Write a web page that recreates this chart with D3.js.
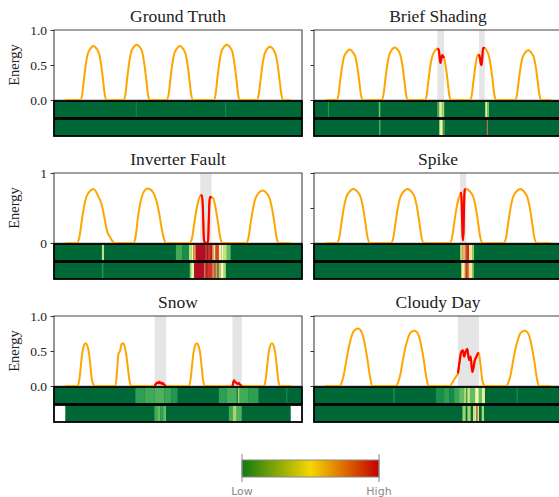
<!DOCTYPE html>
<html><head><meta charset="utf-8">
<script src="https://cdn.jsdelivr.net/npm/d3@7"></script>
<style>body{margin:0;background:#fff}svg{display:block}</style>
</head><body>
<svg id="c" width="559" height="497"></svg>
<script>
// ---------------- DATA ----------------
const titles = ["Ground Truth", "Brief Shading", "Inverter Fault", "Spike", "Snow", "Cloudy Day"];
const hours = [120, 120, 96, 96, 144, 96];

// daylight segments: first hour of each segment + hourly energy values (zero elsewhere)
const gtStarts = [9, 32, 55, 80, 103];
const gtValues = [
  [0.08,0.31,0.52,0.66,0.72,0.755,0.77,0.755,0.72,0.66,0.52,0.31,0.08],
  [0.08,0.32,0.53,0.68,0.74,0.775,0.79,0.775,0.74,0.68,0.53,0.32,0.08],
  [0.08,0.31,0.52,0.66,0.72,0.755,0.77,0.755,0.72,0.66,0.52,0.31,0.08],
  [0.08,0.32,0.53,0.68,0.74,0.775,0.79,0.775,0.74,0.68,0.53,0.32,0.08],
  [0.08,0.30,0.51,0.65,0.71,0.745,0.76,0.745,0.71,0.65,0.51,0.30,0.08]];
const bsStarts = [7, 31, 54, 78, 102];
const bsValues = [
  [0.07,0.29,0.48,0.62,0.67,0.705,0.72,0.705,0.67,0.62,0.48,0.29,0.07],
  [0.08,0.30,0.50,0.64,0.70,0.735,0.75,0.735,0.70,0.64,0.50,0.30,0.08],
  [0.07,0.30,0.50,0.63,0.69,0.725,0.74,0.62,0.55,0.62,0.50,0.30,0.07],
  [0.075,0.30,0.50,0.64,0.70,0.735,0.75,0.74,0.70,0.64,0.50,0.30,0.075],
  [0.07,0.28,0.48,0.61,0.66,0.695,0.71,0.695,0.66,0.61,0.48,0.28,0.07]];
const ifStarts = [6, 30, 54, 78];
const ifValues = [
  [0.08,0.31,0.52,0.66,0.72,0.755,0.77,0.74,0.67,0.60,0.48,0.30,0.15,0.09,0.03],
  [0.10,0.38,0.58,0.70,0.76,0.78,0.77,0.74,0.68,0.58,0.42,0.22,0.06],
  [0.075,0.30,0.50,0.64,0.70,0.73,0.75,0.73,0.70,0.64,0.50,0.30,0.075],
  [0.075,0.30,0.50,0.64,0.70,0.735,0.75,0.735,0.70,0.64,0.50,0.30,0.075]];
const spStarts = [6, 29, 54, 77];
const spValues = [
  [0.08,0.31,0.52,0.66,0.72,0.755,0.77,0.755,0.72,0.66,0.52,0.31,0.08],
  [0.08,0.31,0.52,0.66,0.72,0.755,0.77,0.755,0.72,0.66,0.52,0.31,0.08],
  [0.08,0.31,0.52,0.66,0.72,0.755,0.77,0.755,0.72,0.66,0.52,0.31,0.08],
  [0.08,0.31,0.52,0.66,0.72,0.755,0.77,0.755,0.72,0.66,0.52,0.31,0.08]];
const snStarts = [9, 33, 80, 128];
const snValues = [
  [0.09,0.30,0.49,0.58,0.61,0.58,0.49,0.30,0.09,0.02],
  [0.20,0.46,0.50,0.60,0.61,0.56,0.44,0.26,0.08],
  [0.09,0.30,0.49,0.58,0.61,0.58,0.49,0.30,0.09],
  [0.09,0.30,0.49,0.58,0.61,0.58,0.49,0.30,0.09]];
const cdStarts = [7, 31, 54, 78];
const cdValues = [
  [0.05,0.18,0.37,0.55,0.69,0.78,0.81,0.82,0.80,0.72,0.57,0.37,0.14],
  [0.05,0.17,0.36,0.53,0.66,0.75,0.78,0.79,0.77,0.70,0.55,0.36,0.13],
  [0.04,0.10,0.15,0.20,0.30,0.40,0.45,0.45,0.40,0.35,0.40,0.45,0.33,0.06],
  [0.05,0.17,0.36,0.53,0.66,0.75,0.78,0.79,0.77,0.70,0.55,0.36,0.13]];

// anomalous stretches [hour, energy] (drawn red over the shaded window)
const bsAnomaly1 = [[59.7,0.735],[60.3,0.72],[60.7,0.66],[61.1,0.55],[61.4,0.53],[61.8,0.60],[62.3,0.64],[62.8,0.62],[63.2,0.60]];
const bsAnomaly2 = [[81.8,0.65],[82.3,0.60],[82.8,0.52],[83.2,0.50],[83.6,0.62],[84.0,0.74],[84.4,0.745],[84.9,0.74]];
const ifAnomaly = [[57.6,0.68],[58.2,0.68],[58.6,0.50],[58.9,0.15],[59.2,0.02],[59.6,0.0],[60.4,0.0],[60.8,0.03],[61.1,0.30],[61.4,0.60],[61.8,0.66],[62.3,0.65]];
const spAnomaly = [[57.6,0.70],[57.9,0.72],[58.2,0.45],[58.5,0.10],[58.7,0.04],[58.9,0.20],[59.1,0.55],[59.4,0.76],[59.7,0.77]];
const snAnomaly1 = [[57.1,0.0],[57.6,0.02],[58.2,0.04],[58.8,0.05],[59.4,0.04],[60.0,0.06],[60.6,0.04],[61.2,0.05],[61.8,0.03],[62.4,0.04],[63.0,0.02],[63.6,0.01],[64.3,0.0]];
const snAnomaly2 = [[106.8,0.0],[107.3,0.05],[107.8,0.08],[108.3,0.06],[108.9,0.05],[109.5,0.04],[110.1,0.03],[110.8,0.04],[111.5,0.02],[112.2,0.01],[112.8,0.0]];
const cdAnomaly = [[56.5,0.18],[57.2,0.35],[57.9,0.49],[58.6,0.51],[59.1,0.42],[59.8,0.49],[60.5,0.53],[61.2,0.37],[61.9,0.42],[62.6,0.20],[63.2,0.28],[63.7,0.37],[64.4,0.42],[65.1,0.47],[65.4,0.47]];

// shaded anomaly windows [start hour, end hour]
const bsSpans = [[59.7,63.2],[81.9,84.9]];
const ifSpans = [[57.5,62.3]];
const spSpans = [[57.4,60.0]];
const snSpans = [[57.1,64.5],[106.8,112.8]];
const cdSpans = [[56.5,65.4]];

// heat-map stripes [start hour, end hour, anomaly score 0..1]; background score 0
const gtHeat1 = [[37.5,38.0,0.08],[85.1,85.6,0.08]];
const gtHeat2 = [];
const bsHeat1 = [[1.4,2.0,0.1],[28.5,29.3,0.22],[59.7,60.3,0.25],[60.6,61.7,0.42],[61.7,62.4,0.5],[62.4,63.3,0.3],[85.0,85.5,0.3],[85.5,86.3,0.45],[86.3,87.1,0.25]];
const bsHeat2 = [[28.8,29.3,0.25],[60.6,61.1,0.3],[61.1,62.2,0.5],[62.2,62.7,0.35],[63.0,63.4,0.25],[86.0,86.5,0.8]];
const ifHeat1 = [[15.6,16.5,0.3],[15.9,16.2,0.42],[47.1,49.9,0.15],[49.9,52.7,0.08],[52.7,53.9,0.35],[53.9,54.5,0.5],[54.5,55.6,0.75],[55.6,59.8,0.97],[59.8,60.2,0.8],[60.2,60.8,0.97],[60.8,61.9,0.9],[61.9,62.6,0.95],[62.6,63.3,0.7],[63.3,64.0,0.6],[64.0,65.4,0.88],[65.4,66.5,0.55],[66.5,67.5,0.5],[67.5,68.8,0.35],[68.8,70.4,0.2]];
const ifHeat2 = [[15.6,16.2,0.1],[53.0,53.6,0.25],[53.6,54.9,0.45],[54.9,59.1,0.97],[59.1,59.8,0.8],[59.8,60.5,0.95],[60.5,62.6,0.9],[62.6,63.3,0.75],[63.3,64.0,0.85],[64.0,64.7,0.25],[64.7,65.4,0.85],[65.4,66.1,0.3],[66.1,67.5,0.5],[67.5,68.4,0.3]];
const spHeat1 = [[57.4,57.9,0.3],[57.9,58.4,0.55],[58.4,59.8,0.7],[59.8,60.3,0.85],[60.3,61.2,0.92],[61.2,62.6,0.58],[62.6,63.3,0.3]];
const spHeat2 = [[57.8,58.1,0.3],[58.1,59.1,0.55],[59.1,59.8,0.65],[59.8,60.5,0.9],[60.5,61.2,0.8],[61.2,62.6,0.58],[62.6,63.2,0.3]];
const snHeat1 = [[44.8,50.6,0.12],[50.6,56.9,0.15],[56.9,63.2,0.17],[63.2,67.7,0.14],[67.7,71.7,0.1],[98.1,103.2,0.12],[103.2,109.5,0.16],[110.2,111.4,0.3],[111.4,117.1,0.15],[117.1,123.4,0.12],[141.1,141.9,0.07]];
const snHeat2 = [[56.9,58.8,0.15],[58.8,60.7,0.2],[60.7,62.2,0.13],[62.2,64.3,0.17],[63.5,64.1,0.25],[104.5,107.0,0.15],[107.0,109.5,0.3],[109.5,112.7,0.17]];
const cdHeat1 = [[29.0,29.5,0.1],[81.5,81.9,0.1],[47.1,50.6,0.08],[50.6,52.7,0.12],[52.7,54.9,0.07],[54.9,57.0,0.14],[57.0,59.1,0.2],[59.1,60.0,0.32],[60.0,60.5,0.15],[60.5,61.6,0.38],[61.6,63.8,0.2],[63.8,65.4,0.47],[65.4,66.6,0.2],[66.6,68.0,0.42]];
const cdHeat2 = [[58.4,59.8,0.28],[60.5,61.9,0.3],[62.9,63.8,0.35],[63.8,64.3,0.5],[64.3,64.9,0.82],[64.9,65.4,0.45],[66.6,67.6,0.3]];

// y ticks
const yTicksFull = [0, 0.5, 1];
const yLabelsFull = ["0.0", "0.5", "1.0"];
const yTicksShort = [0, 1];
const yLabelsShort = ["0", "1"];
const colorbarStops = ["#12790f", "#f5d600", "#c40000"];
const colorbarLabels = ["Low", "High"];

// ---------------- BUILD ----------------
const panels = [
  {starts: gtStarts, values: gtValues, anomalies: [], spans: [], heat: [gtHeat1, gtHeat2]},
  {starts: bsStarts, values: bsValues, anomalies: [bsAnomaly1, bsAnomaly2], spans: bsSpans, heat: [bsHeat1, bsHeat2]},
  {starts: ifStarts, values: ifValues, anomalies: [ifAnomaly], spans: ifSpans, heat: [ifHeat1, ifHeat2]},
  {starts: spStarts, values: spValues, anomalies: [spAnomaly], spans: spSpans, heat: [spHeat1, spHeat2]},
  {starts: snStarts, values: snValues, anomalies: [snAnomaly1, snAnomaly2], spans: snSpans, heat: [snHeat1, snHeat2], row2Data: true},
  {starts: cdStarts, values: cdValues, anomalies: [cdAnomaly], spans: cdSpans, heat: [cdHeat1, cdHeat2]}
];

const svg = d3.select("#c");
const colX = [54, 314], axW = 248;
const rowTop = [30, 173, 316], lineH = 70;
const serif = "'Liberation Serif', 'Times New Roman', serif";
const heatColor = v => d3.interpolateRdYlGn(1 - v);

panels.forEach((p, i) => {
  const col = i % 2, row = Math.floor(i / 2);
  const T = hours[i];
  const x0 = colX[col], y0 = rowTop[row];
  const x = d3.scaleLinear().domain([-0.05 * T, 1.05 * T]).range([x0, x0 + axW]);
  const y = d3.scaleLinear().domain([0, 1]).range([y0 + lineH, y0]);
  const g = svg.append("g");

  // hourly series
  const hourly = new Array(T + 1).fill(0);
  p.starts.forEach((s, k) => p.values[k].forEach((v, j) => { hourly[s + j] = v; }));
  let pts = [];
  hourly.forEach((v, t) => {
    const inside = p.anomalies.some(a => t >= a[0][0] && t <= a[a.length - 1][0]);
    if (!inside) pts.push([t, v]);
  });
  p.anomalies.forEach(a => a.forEach(d => pts.push(d)));
  pts.sort((a, b) => a[0] - b[0]);

  // shaded windows
  g.selectAll(".span").data(p.spans).enter().append("rect")
    .attr("x", d => x(d[0])).attr("width", d => x(d[1]) - x(d[0]))
    .attr("y", y(1)).attr("height", y(0) - y(1)).attr("fill", "#e5e5e5");

  // frame
  g.append("line").attr("x1", x0).attr("x2", x0 + axW).attr("y1", y(0)).attr("y2", y(0)).attr("stroke", "#999").attr("stroke-width", 1.2);
  g.append("path").attr("d", `M${x0},${y(0)}V${y(1)}H${x0 + axW}V${y(0)}`)
    .attr("fill", "none").attr("stroke", "#444").attr("stroke-width", 1.1);

  // axis
  let ticks, labels;
  if (row === 1 && col === 0) { ticks = yTicksShort; labels = yLabelsShort; }
  else { ticks = yTicksFull; labels = yLabelsFull; }
  const ax = d3.axisLeft(y).tickValues(ticks).tickSize(3.5).tickPadding(3.5)
    .tickFormat(col === 0 ? (d => labels[ticks.indexOf(d)]) : () => "");
  const ag = g.append("g").attr("transform", `translate(${x0},0)`).call(ax)
    .attr("font-family", serif).attr("font-size", 13.5);
  ag.select(".domain").remove();
  ag.selectAll("line").attr("stroke", "#333").attr("stroke-width", 1);
  ag.selectAll("text").attr("font-family", serif).attr("font-size", 13.5).attr("fill", "#222");

  if (col === 0) {
    g.append("text").attr("transform", `translate(19,${(y(0) + y(1)) / 2}) rotate(-90)`)
      .attr("text-anchor", "middle").attr("font-family", serif).attr("font-size", 14.5)
      .attr("fill", "#222").text("Energy");
  }

  // lines
  const line = d3.line().x(d => x(d[0])).y(d => y(d[1])).curve(d3.curveMonotoneX);
  g.append("path").datum(pts).attr("d", line).attr("fill", "none")
    .attr("stroke", "#FFA500").attr("stroke-width", 2);
  p.anomalies.forEach(a => {
    g.append("path").datum(a).attr("d", line).attr("fill", "none")
      .attr("stroke", "#FF0000").attr("stroke-width", 2.2);
  });

  // heat rows
  const heatTops = [y0 + lineH + 1, y0 + lineH + 19];
  const heatH = 17;
  p.heat.forEach((stripes, r) => {
    const hy = heatTops[r];
    const range = (r === 1 && p.row2Data) ? [0, T] : [-0.05 * T, 1.05 * T];
    g.append("rect").attr("x", x0).attr("y", hy).attr("width", axW).attr("height", heatH).attr("fill", "#fff");
    g.append("rect").attr("x", x(range[0])).attr("y", hy).attr("width", x(range[1]) - x(range[0]))
      .attr("height", heatH).attr("fill", heatColor(0));
    g.selectAll(null).data(stripes).enter().append("rect")
      .attr("x", d => x(d[0])).attr("width", d => Math.max(0.8, x(d[1]) - x(d[0])))
      .attr("y", hy).attr("height", heatH).attr("fill", d => heatColor(d[2]));
    g.append("rect").attr("x", x0).attr("y", hy).attr("width", axW).attr("height", heatH)
      .attr("fill", "none").attr("stroke", "#000").attr("stroke-width", 1.8);
  });

  // title
  g.append("text").attr("x", x0 + axW / 2).attr("y", y0 - 8).attr("text-anchor", "middle")
    .attr("font-family", serif).attr("font-size", 17.5).attr("fill", "#222").text(titles[i]);
});

// colorbar
const cb = svg.append("g");
const grad = svg.append("defs").append("linearGradient").attr("id", "cbg");
colorbarStops.forEach((c, k) => grad.append("stop").attr("offset", k / (colorbarStops.length - 1)).attr("stop-color", c));
const cbx = d3.scaleLinear().domain([0, 1]).range([242, 379]);
cb.append("rect").attr("x", cbx(0)).attr("y", 460).attr("width", cbx(1) - cbx(0)).attr("height", 17)
  .attr("fill", "url(#cbg)").attr("stroke", "#888").attr("stroke-width", 1);
[0, 1].forEach((v, k) => {
  cb.append("line").attr("x1", cbx(v)).attr("x2", cbx(v)).attr("y1", 454).attr("y2", 482)
    .attr("stroke", "#888").attr("stroke-width", 1);
  cb.append("text").attr("x", cbx(v)).attr("y", 495).attr("text-anchor", "middle")
    .attr("font-family", "'DejaVu Sans', sans-serif").attr("font-size", 11).attr("fill", "#888")
    .text(colorbarLabels[k]);
});
</script>
</body></html>
